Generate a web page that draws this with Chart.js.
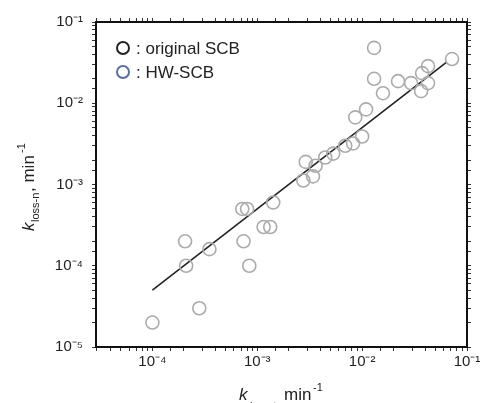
<!DOCTYPE html>
<html>
<head>
<meta charset="utf-8">
<script src="https://cdn.jsdelivr.net/npm/chart.js@4/dist/chart.umd.min.js"></script>
<style>
  html, body { margin: 0; padding: 0; background: #fff; }
  #wrap { width: 480px; height: 403px; }
</style>
</head>
<body>
<div id="wrap"><canvas id="kChart"></canvas></div>
<script>
var kX = [1.0e-4, 2.8e-4, 2.05e-4, 2.1e-4, 3.5e-4, 7.2e-4, 8.0e-4, 7.4e-4, 8.4e-4, 1.15e-3,
          1.33e-3, 1.42e-3, 2.9e-3, 3.6e-3, 2.75e-3, 3.4e-3, 4.45e-3, 5.3e-3, 6.9e-3, 8.2e-3,
          1.0e-2, 8.6e-3, 1.09e-2, 1.58e-2, 1.3e-2, 1.3e-2, 2.2e-2, 2.93e-2, 3.65e-2, 4.25e-2,
          3.73e-2, 4.25e-2, 7.2e-2];
var kY = [2.0e-5, 3.0e-5, 2.0e-4, 1.0e-4, 1.6e-4, 5.0e-4, 5.0e-4, 2.0e-4, 1.0e-4, 3.0e-4,
          3.0e-4, 6.0e-4, 1.9e-3, 1.7e-3, 1.12e-3, 1.26e-3, 2.15e-3, 2.4e-3, 3.0e-3, 3.2e-3,
          3.9e-3, 6.7e-3, 8.4e-3, 1.33e-2, 2.0e-2, 4.8e-2, 1.87e-2, 1.77e-2, 1.41e-2, 1.77e-2,
          2.35e-2, 2.86e-2, 3.5e-2];

// fitted line end points
var fitX = [1.0e-4, 6.4e-2];
var fitY = [5.0e-5, 3.2e-2];

var legendLabels = [': original SCB', ': HW-SCB'];
var legendColors = ['#222222', '#5a6f9e'];

var xMin = 2.9e-5, xMax = 1e-1;
var yMin = 1e-5, yMax = 1e-1;

var sup = {'-': '\u207B', '0': '\u2070', '1': '\u00B9', '2': '\u00B2', '3': '\u00B3', '4': '\u2074',
           '5': '\u2075', '6': '\u2076', '7': '\u2077', '8': '\u2078', '9': '\u2079'};

function decadeLabel(v){
    var e = Math.log10(v);
    if (Math.abs(e - Math.round(e)) > 1e-6)
        return '';
    var s = String(Math.round(e)).split('').map(function(c){ return sup[c]; }).join('');
    return '10' + s;
}

var points = [];
for (var i = 0; i < kX.length; i++)
    points.push({x: kX[i], y: kY[i]});

var fitLine = [];
for (var j = 0; j < fitX.length; j++)
    fitLine.push({x: fitX[j], y: fitY[j]});

function axisCommon(pos, showLabels, size){
    return {
        type: 'logarithmic',
        position: pos,
        min: (pos == 'bottom' || pos == 'top') ? xMin : yMin,
        max: (pos == 'bottom' || pos == 'top') ? xMax : yMax,
        afterFit: function(s){
            if (s.isHorizontal()){
                s.height = size;
                s.paddingLeft = 0;
                s.paddingRight = 0;
            } else {
                s.width = size;
                s.paddingTop = 0;
                s.paddingBottom = 0;
            }
        },
        border: { display: true, color: '#111', width: 2 },
        grid: {
            drawOnChartArea: false,
            drawTicks: true,
            tickLength: 4,
            tickWidth: 1,
            color: '#333'
        },
        ticks: {
            autoSkip: false,
            maxRotation: 0,
            minRotation: 0,
            padding: (pos == 'left') ? 9 : 2,
            color: '#222',
            font: { family: '"Liberation Sans", Arial, sans-serif', size: 15 },
            callback: function(v){ return showLabels ? decadeLabel(v) : ''; }
        }
    };
}

// draws legend box and axis titles with sub/superscripts
var extras = {
    id: 'extras',
    afterDraw: function(chart){
        var ctx = chart.ctx;
        ctx.save();
        var f = '"Liberation Sans", Arial, sans-serif';

        // legend
        for (var i = 0; i < legendLabels.length; i++){
            var ly = 48 + i * 24;
            ctx.beginPath();
            ctx.arc(123, ly, 6, 0, Math.PI * 2);
            ctx.lineWidth = 2;
            ctx.strokeStyle = legendColors[i];
            ctx.stroke();
            ctx.fillStyle = '#222';
            ctx.font = '17px ' + f;
            ctx.textBaseline = 'middle';
            ctx.textAlign = 'left';
            ctx.fillText(legendLabels[i], 136, ly + 1);
        }

        // x title
        ctx.fillStyle = '#222';
        ctx.textBaseline = 'alphabetic';
        ctx.font = 'italic 17px ' + f;
        ctx.fillText('k', 239, 400);
        ctx.font = '11px ' + f;
        ctx.fillText('loss-t', 250, 410);
        ctx.font = '17px ' + f;
        ctx.fillText('min', 284, 400);
        ctx.font = '11px ' + f;
        ctx.fillText('-1', 313, 391);

        // y title
        ctx.translate(34, 231);
        ctx.rotate(-Math.PI / 2);
        ctx.font = 'italic 17px ' + f;
        ctx.fillText('k', 0, 0);
        ctx.font = '11px ' + f;
        ctx.fillText('loss-n', 9, 5);
        ctx.font = '17px ' + f;
        ctx.fillText(', min', 39, 0);
        ctx.font = '11px ' + f;
        ctx.fillText('-1', 78, -9);
        ctx.restore();
    }
};

var kChart = new Chart(document.getElementById('kChart'), {
    type: 'scatter',
    data: {
        datasets: [{
            label: 'data',
            data: points,
            pointRadius: 6.5,
            pointHoverRadius: 6.5,
            pointBorderWidth: 1.6,
            borderColor: '#ababab',
            backgroundColor: 'rgba(0,0,0,0)',
            xAxisID: 'x',
            yAxisID: 'y'
        }, {
            type: 'line',
            label: 'fit',
            data: fitLine,
            borderColor: '#222',
            borderWidth: 1.6,
            pointRadius: 0,
            fill: false,
            xAxisID: 'x',
            yAxisID: 'y'
        }]
    },
    options: {
        responsive: true,
        maintainAspectRatio: false,
        animation: false,
        layout: { padding: 0 },
        plugins: {
            legend: { display: false },
            tooltip: { enabled: false }
        },
        scales: {
            x: axisCommon('bottom', true, 56),
            x2: axisCommon('top', false, 22),
            y: axisCommon('left', true, 96),
            y2: axisCommon('right', false, 13)
        }
    },
    plugins: [extras]
});
</script>
</body>
</html>
